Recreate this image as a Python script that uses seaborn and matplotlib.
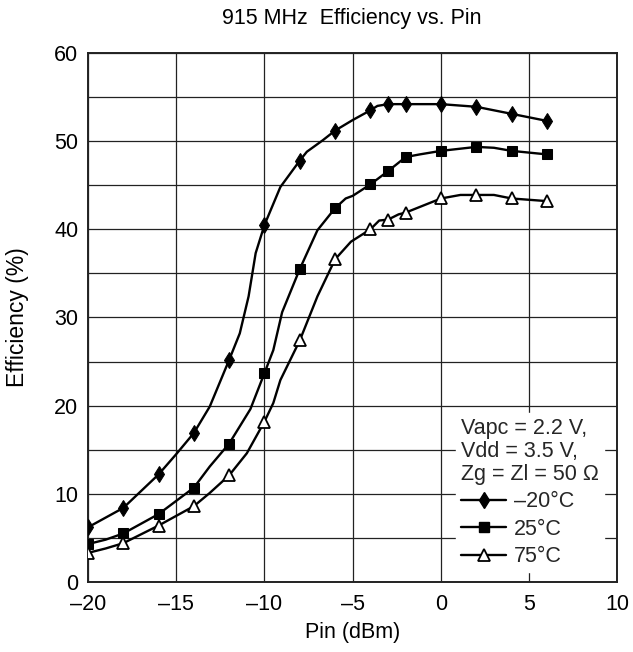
import numpy as np
import pandas as pd
import matplotlib
matplotlib.use("Agg")
import matplotlib.pyplot as plt
from matplotlib.lines import Line2D
import seaborn as sns

# ---- data ----
pin_markers = [-20, -18, -16, -14, -12, -10, -8, -6, -4, -3, -2, 0, 2, 4, 6]

eff_m20 = [6.2, 8.4, 12.2, 16.9, 25.2, 40.5, 47.8, 51.2, 53.5, 54.2, 54.2, 54.2, 53.9, 53.1, 52.3]
eff_25 = [4.3, 5.5, 7.7, 10.7, 15.7, 23.7, 35.5, 42.4, 45.1, 46.6, 48.2, 48.9, 49.35, 48.9, 48.5]
eff_75 = [3.3, 4.4, 6.4, 8.6, 12.1, 18.2, 27.4, 36.6, 40.0, 41.1, 41.9, 43.5, 43.9, 43.5, 43.2]

# traced curve points (markers plus points)
curve_m20_x = [-20, -18, -16, -15.0, -14, -13.1, -12, -11.4, -10.9, -10.5, -10, -9.1, -8, -7.6, -6.7, -6, -5.0, -4, -3.6, -3, -2, 0, 2, 4, 6]
curve_m20_y = [6.2, 8.4, 12.2, 14.5, 16.9, 19.9, 25.2, 28.2, 32.4, 37.3, 40.5, 44.8, 47.8, 48.8, 50.1, 51.2, 52.4, 53.5, 54.0, 54.2, 54.2, 54.2, 53.9, 53.1, 52.3]

curve_25_x = [-20, -19, -18, -16, -14, -13.1, -12, -10.8, -10, -9.5, -9.0, -8, -7.0, -6, -5.4, -5.0, -4, -3, -2, -1.2, 0, 2, 3.0, 4, 6]
curve_25_y = [4.3, 4.8, 5.5, 7.7, 10.7, 13.1, 15.7, 19.6, 23.7, 26.3, 30.6, 35.5, 39.9, 42.4, 43.5, 43.8, 45.1, 46.6, 48.2, 48.5, 48.9, 49.35, 49.25, 48.9, 48.5]

curve_75_x = [-20, -19, -18, -16, -14, -13.1, -12, -11.0, -10, -9.5, -9.1, -8, -7.0, -6, -5.1, -4, -3.5, -3, -2.4, -2, 0, 1.1, 2, 3.0, 4, 6]
curve_75_y = [3.3, 3.8, 4.4, 6.4, 8.6, 10.1, 12.1, 14.6, 18.2, 20.3, 22.9, 27.4, 32.4, 36.6, 38.6, 40.0, 41.0, 41.1, 41.7, 41.9, 43.5, 43.9, 43.9, 43.9, 43.5, 43.2]

labels = ["\u201320\u00b0C", "25\u00b0C", "75\u00b0C"]
x_ticks = [-20, -15, -10, -5, 0, 5, 10]
x_tick_labels = ["\u201320", "\u201315", "\u201310", "\u20135", "0", "5", "10"]
y_ticks = [0, 10, 20, 30, 40, 50, 60]

title = "915 MHz  Efficiency vs. Pin"
legend_title = "Vapc = 2.2 V,\nVdd = 3.5 V,\nZg = Zl = 50 \u03a9"

# ---- style ----
sns.set_theme(style="white")
plt.rcParams["font.family"] = ["Liberation Sans", "DejaVu Sans"]

FS = 15.5

fig = plt.figure(figsize=(6.33, 6.52), dpi=100)
ax = fig.add_axes([0.139, 0.1074, 0.8365, 0.8113])

series = [
    (curve_m20_x, curve_m20_y, eff_m20, dict(marker="d", markersize=8.5, markerfacecolor="black", markeredgecolor="black")),
    (curve_25_x, curve_25_y, eff_25, dict(marker="s", markersize=7.5, markerfacecolor="black", markeredgecolor="black")),
    (curve_75_x, curve_75_y, eff_75, dict(marker="^", markersize=8.5, markerfacecolor="white", markeredgecolor="black", markeredgewidth=1.3)),
]

handles = []
for (cx, cy, my, mstyle), lab in zip(series, labels):
    dfc = pd.DataFrame({"x": cx, "y": cy})
    sns.lineplot(data=dfc, x="x", y="y", ax=ax, color="black", linewidth=1.7,
                 sort=False, estimator=None, zorder=3)
    dfm = pd.DataFrame({"x": pin_markers, "y": my})
    sns.lineplot(data=dfm, x="x", y="y", ax=ax, color="black", linestyle="",
                 sort=False, estimator=None, zorder=4, **mstyle)
    handles.append(Line2D([], [], color="black", linewidth=1.7, label=lab, **mstyle))

ax.set_xlim(-20, 10)
ax.set_ylim(0, 60)
ax.set_xticks(x_ticks)
ax.set_xticklabels(x_tick_labels)
ax.set_yticks(y_ticks)
ax.set_xticks(np.arange(-20, 11, 5), minor=True)
ax.set_yticks(np.arange(0, 61, 5), minor=True)
ax.grid(True, which="both", color="#222222", linewidth=0.9)
ax.set_axisbelow(True)
ax.tick_params(axis="both", which="both", length=0, labelsize=FS, colors="black")
ax.tick_params(axis="x", pad=9)
ax.tick_params(axis="y", pad=7)
for s in ax.spines.values():
    s.set_color("#222222")
    s.set_linewidth(1.4)

ax.set_xlabel("Pin (dBm)", fontsize=FS, color="black")
ax.set_ylabel("Efficiency (%)", fontsize=FS + 1, color="black")
ax.xaxis.set_label_coords(0.5, (582 - 633) / 529.0)
ax.xaxis.label.set_va("center")
ax.yaxis.set_label_coords((18 - 88) / 529.5, (582 - 317) / 529.0)
ax.yaxis.label.set_va("center")

fig.text(0.556, 0.972, title, ha="center", va="center", fontsize=FS, color="black")

leg = ax.legend(handles=handles, title=legend_title, loc="lower right",
                bbox_to_anchor=(0.975, 0.018), frameon=True, fancybox=False,
                framealpha=1.0, edgecolor="white", facecolor="white",
                fontsize=FS, title_fontsize=FS, alignment="left",
                handlelength=2.1, handletextpad=0.35, labelspacing=0.3,
                borderpad=0.25, borderaxespad=0.0)
leg.get_title().set_linespacing(1.1)
leg.set_zorder(5)

fig.savefig("out.png", dpi=100)
